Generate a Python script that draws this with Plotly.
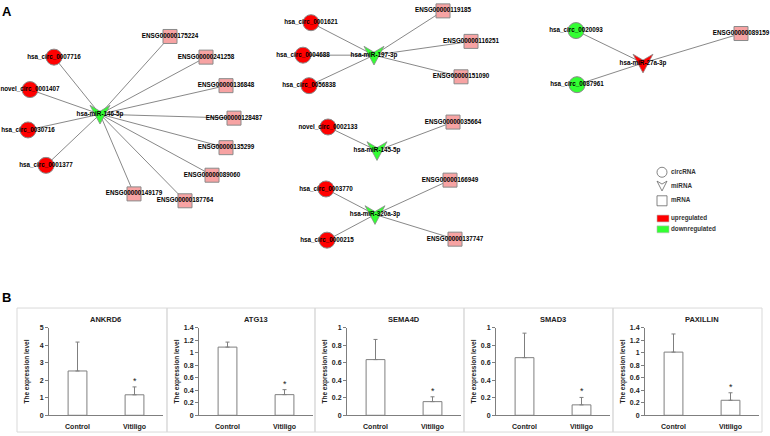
import plotly.graph_objects as go

W, H = 770, 436

# ---------------- Panel A: network data ----------------
circ_names = ["hsa_circ_0007716", "novel_circ_0001407", "hsa_circ_0030716", "hsa_circ_0001377",
              "hsa_circ_0001621", "hsa_circ_0004688", "hsa_circ_0056838",
              "novel_circ_0002133", "hsa_circ_0003770", "hsa_circ_0000215",
              "hsa_circ_0020093", "hsa_circ_0087961"]
circ_x = [54, 30, 28, 46, 311, 303, 309, 328, 326, 327, 576, 577]
circ_y = [54, 87, 128, 164, 19, 52, 83, 125, 188, 240, 27, 82]
circ_reg = ["up"] * 10 + ["down"] * 2

mir_names = ["hsa-miR-146-5p", "hsa-miR-197-3p", "hsa-miR-145-5p", "hsa-miR-320a-3p", "hsa-miR-27a-3p"]
mir_x = [100, 374, 377, 375, 643]
mir_y = [112, 52, 149, 214, 60]
mir_reg = ["down", "down", "down", "down", "up"]

mrna_names = ["ENSG00000175224", "ENSG00000241258", "ENSG00000136848", "ENSG00000128487",
              "ENSG00000135299", "ENSG00000089060", "ENSG00000187764", "ENSG00000149179",
              "ENSG00000119185", "ENSG00000116251", "ENSG00000151090", "ENSG00000035664",
              "ENSG00000166949", "ENSG00000137747", "ENSG00000089159"]
mrna_x = [170, 206, 226, 234, 226, 212, 185, 134, 443, 471, 461, 453, 450, 455, 741]
mrna_y = [33, 54, 83, 116, 146, 174, 200, 193, 7, 38, 74, 120, 179, 239, 30]

edges = [
    ("hsa_circ_0007716", "hsa-miR-146-5p"), ("novel_circ_0001407", "hsa-miR-146-5p"),
    ("hsa_circ_0030716", "hsa-miR-146-5p"), ("hsa_circ_0001377", "hsa-miR-146-5p"),
    ("hsa-miR-146-5p", "ENSG00000175224"), ("hsa-miR-146-5p", "ENSG00000241258"),
    ("hsa-miR-146-5p", "ENSG00000136848"), ("hsa-miR-146-5p", "ENSG00000128487"),
    ("hsa-miR-146-5p", "ENSG00000135299"), ("hsa-miR-146-5p", "ENSG00000089060"),
    ("hsa-miR-146-5p", "ENSG00000187764"), ("hsa-miR-146-5p", "ENSG00000149179"),
    ("hsa_circ_0001621", "hsa-miR-197-3p"), ("hsa_circ_0004688", "hsa-miR-197-3p"),
    ("hsa_circ_0056838", "hsa-miR-197-3p"),
    ("hsa-miR-197-3p", "ENSG00000119185"), ("hsa-miR-197-3p", "ENSG00000116251"),
    ("hsa-miR-197-3p", "ENSG00000151090"),
    ("novel_circ_0002133", "hsa-miR-145-5p"), ("hsa-miR-145-5p", "ENSG00000035664"),
    ("hsa_circ_0003770", "hsa-miR-320a-3p"), ("hsa_circ_0000215", "hsa-miR-320a-3p"),
    ("hsa-miR-320a-3p", "ENSG00000166949"), ("hsa-miR-320a-3p", "ENSG00000137747"),
    ("hsa_circ_0020093", "hsa-miR-27a-3p"), ("hsa_circ_0087961", "hsa-miR-27a-3p"),
    ("hsa-miR-27a-3p", "ENSG00000089159"),
]

legend_shapes = ["circRNA", "miRNA", "mRNA"]
legend_colors = ["upregulated", "downregulated"]

# ---------------- Panel B: qPCR data ----------------
genes = ["ANKRD6", "ATG13", "SEMA4D", "SMAD3", "PAXILLIN"]
groups = ["Control", "Vitiligo"]
control_mean = [2.53, 1.09, 0.636, 0.658, 1.01]
control_err = [1.65, 0.08, 0.23, 0.28, 0.29]
vitiligo_mean = [1.17, 0.33, 0.156, 0.119, 0.24]
vitiligo_err = [0.45, 0.08, 0.055, 0.085, 0.12]
y_max = [5, 1.4, 1, 1, 1.4]
y_dtick = [1, 0.2, 0.2, 0.2, 0.2]

# ---------------- styling ----------------
RED = "#ff0000"
GREEN = "#33ff33"
PINK = "#f7a3a3"
EDGE = "#7a7a7a"
FONT = "Liberation Sans, Arial, sans-serif"
reg_color = {"up": RED, "down": GREEN}

pos = {}
for n, x, y in zip(circ_names, circ_x, circ_y):
    pos[n] = (x, y)
for n, x, y in zip(mir_names, mir_x, mir_y):
    pos[n] = (x, y)
for n, x, y in zip(mrna_names, mrna_x, mrna_y):
    pos[n] = (x, y)

fig = go.Figure()

# edges
ex, ey = [], []
for a, b in edges:
    ex += [pos[a][0], pos[b][0], None]
    ey += [pos[a][1], pos[b][1], None]
fig.add_trace(go.Scatter(x=ex, y=ey, mode="lines", line=dict(color=EDGE, width=0.9),
                         hoverinfo="skip", xaxis="x", yaxis="y"))

# circRNA nodes
fig.add_trace(go.Scatter(x=circ_x, y=circ_y, mode="markers",
                         marker=dict(symbol="circle", size=16,
                                     color=[reg_color[r] for r in circ_reg],
                                     line=dict(color="#8a8a8a", width=1)),
                         xaxis="x", yaxis="y"))
# mRNA nodes
fig.add_trace(go.Scatter(x=mrna_x, y=mrna_y, mode="markers", cliponaxis=False,
                         marker=dict(symbol="square", size=14, color=PINK,
                                     line=dict(color="#8a8a8a", width=1)),
                         xaxis="x", yaxis="y"))
# miRNA chevrons (V shapes) around each hub position
for x, y, r in zip(mir_x, mir_y, mir_reg):
    px = [x - 10, x, x + 10, x, x - 10]
    py = [y - 9, y - 3, y - 9, y + 10, y - 9]
    fig.add_trace(go.Scatter(x=px, y=py, mode="lines", fill="toself",
                             fillcolor=reg_color[r], line=dict(color="#8a8a8a", width=0.8),
                             hoverinfo="skip", xaxis="x", yaxis="y"))

# labels
lab_n = circ_names + mir_names + mrna_names
lab_x = circ_x + mir_x + mrna_x
lab_y = circ_y + mir_y + mrna_y
fig.add_trace(go.Scatter(x=lab_x, y=lab_y, mode="text", text=lab_n, cliponaxis=False,
                         textposition="middle center",
                         textfont=dict(family=FONT, size=6.3, color="#000", weight="bold"),
                         hoverinfo="skip", xaxis="x", yaxis="y"))

# legend icons
leg_x = 662
leg_y = [171, 185, 200]
fig.add_trace(go.Scatter(x=[leg_x, leg_x], y=[leg_y[0], leg_y[2]], mode="markers",
                         marker=dict(symbol=["circle-open", "square-open"], size=10,
                                     color="#666", line=dict(width=0.8)),
                         xaxis="x", yaxis="y"))
vx, vy = leg_x, leg_y[1]
fig.add_trace(go.Scatter(x=[vx - 5, vx, vx + 5, vx, vx - 5],
                         y=[vy - 5, vy - 2, vy - 5, vy + 5, vy - 5], mode="lines",
                         line=dict(color="#666", width=0.8), hoverinfo="skip",
                         xaxis="x", yaxis="y"))
fig.add_trace(go.Scatter(x=[671] * 5, y=leg_y + [218, 229], mode="text",
                         text=legend_shapes + legend_colors, textposition="middle right",
                         textfont=dict(family=FONT, size=6.3, color="#333", weight="bold"),
                         hoverinfo="skip", xaxis="x", yaxis="y"))

shapes = []
for yy, col in zip([218, 229], [RED, GREEN]):
    shapes.append(dict(type="rect", xref="x", yref="y", x0=657, x1=669, y0=yy - 3.5, y1=yy + 3.5,
                       fillcolor=col, line=dict(color="#bbbbbb", width=0.6)))

annotations = [
    dict(text="<b>A</b>", x=7 / W, y=1 - 8 / H, xref="paper", yref="paper", showarrow=False,
         xanchor="center", yanchor="middle", font=dict(family=FONT, size=13, color="#000")),
    dict(text="<b>B</b>", x=6 / W, y=1 - 298 / H, xref="paper", yref="paper", showarrow=False,
         xanchor="center", yanchor="middle", font=dict(family=FONT, size=13, color="#000")),
]

layout_axes = dict(
    xaxis=dict(domain=[0, 1], range=[0, W], visible=False, fixedrange=True),
    yaxis=dict(domain=[0, 1], range=[H, 0], visible=False, fixedrange=True),
)

panel_left = [17, 167, 315, 464, 613]
panel_right = [167, 315, 464, 613, 762]
PLOT_TOP, PLOT_BOT = 329, 418
AX = "#7f7f7f"

for i, g in enumerate(genes):
    k = i + 2
    L, R = panel_left[i], panel_right[i]
    xd = [(L + 32) / W, (L + 146) / W]
    yd = [(H - PLOT_BOT) / H, (H - PLOT_TOP) / H]
    fig.add_trace(go.Bar(
        x=groups, y=[control_mean[i], vitiligo_mean[i]], width=0.33,
        marker=dict(color="white", line=dict(color=AX, width=1)),
        error_y=dict(type="data", symmetric=False,
                     array=[control_err[i], vitiligo_err[i]], arrayminus=[0, 0],
                     color=AX, thickness=1, width=2),
        xaxis=f"x{k}", yaxis=f"y{k}"))
    layout_axes[f"xaxis{k}"] = dict(domain=xd, anchor=f"y{k}", type="category",
                                    range=[-0.5, 1.5], showline=True, linecolor=AX,
                                    linewidth=1, ticks="", showgrid=False, zeroline=False,
                                    ticklabelstandoff=4,
                                    tickfont=dict(family=FONT, size=7, color="#222", weight="bold"),
                                    fixedrange=True)
    layout_axes[f"yaxis{k}"] = dict(domain=yd, anchor=f"x{k}", range=[0, y_max[i]],
                                    dtick=y_dtick[i], tick0=0, showline=True, linecolor=AX,
                                    linewidth=1, ticks="outside", ticklen=3, tickcolor=AX,
                                    showgrid=False, zeroline=False,
                                    tickfont=dict(family=FONT, size=7, color="#222", weight="bold"),
                                    fixedrange=True)
    shapes.append(dict(type="rect", xref="paper", yref="paper",
                       x0=L / W, x1=R / W, y0=1 - 435 / H, y1=1 - 309 / H,
                       line=dict(color="#d9d9d9", width=1), fillcolor="rgba(0,0,0,0)"))
    annotations.append(dict(text=f"<b>{g}</b>", x=(L + 89) / W, y=1 - 321 / H,
                            xref="paper", yref="paper", showarrow=False,
                            xanchor="center", yanchor="middle",
                            font=dict(family=FONT, size=7.5, color="#222")))
    annotations.append(dict(text="<b>The expression level</b>", x=(L + 10) / W,
                            y=1 - (PLOT_TOP + PLOT_BOT) / 2 / H, textangle=-90,
                            xref="paper", yref="paper", showarrow=False,
                            xanchor="center", yanchor="middle",
                            font=dict(family=FONT, size=6.5, color="#222")))
    annotations.append(dict(text="*", x="Vitiligo", y=vitiligo_mean[i] + vitiligo_err[i],
                            xref=f"x{k}", yref=f"y{k}", showarrow=False, yshift=6,
                            xanchor="center", yanchor="middle",
                            font=dict(family=FONT, size=9, color="#222")))

fig.update_layout(
    width=W, height=H, autosize=False,
    margin=dict(l=0, r=0, t=0, b=0, pad=0),
    paper_bgcolor="white", plot_bgcolor="rgba(0,0,0,0)",
    showlegend=False, shapes=shapes, annotations=annotations,
    **layout_axes,
)

fig.write_html("out.html", config={"displayModeBar": False},
               post_script="document.body.style.margin='0';document.body.style.padding='0';"
                           "document.body.style.overflow='hidden';")
